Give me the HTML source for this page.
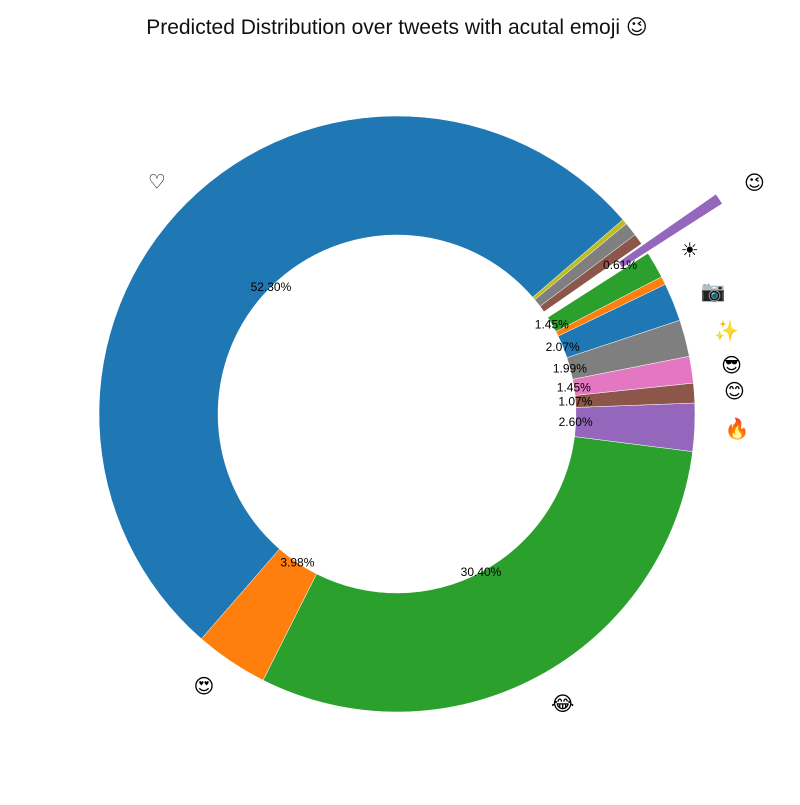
<!DOCTYPE html>
<html><head><meta charset="utf-8"><style>
body{margin:0;background:#fff;}
svg text{font-family:"Liberation Sans","DejaVu Sans",sans-serif;}
</style></head><body>
<svg id="chart" width="800" height="800" viewBox="0 0 800 800" xmlns="http://www.w3.org/2000/svg">
<text x="397" y="34" font-size="21" text-anchor="middle" fill="#111">Predicted Distribution over tweets with acutal emoji 😉</text>
<g id="wedges"></g><g id="labels"></g>
</svg>
<script>
const categories = ["♡","😍","😂","🔥","😊","😎","✨","📷","","☀","😉","","",""];
const values = [52.30,3.98,30.40,2.60,1.07,1.45,1.99,2.07,0.45,1.45,0.61,0.60,0.75,0.28];
const pctLabels = ["52.30%","3.98%","30.40%","2.60%","1.07%","1.45%","1.99%","2.07%","","1.45%","0.61%","","",""];
const explode = [0,0,0,0,0,0,0,0,0,0,0.3,0,0,0];
const colors = ["#1f77b4","#ff7f0e","#2ca02c","#9467bd","#8c564b","#e377c2","#7f7f7f","#1f77b4","#ff7f0e","#2ca02c","#9467bd","#8c564b","#7f7f7f","#bcbd22"];
const cx=397, cy=414, R=298, r0=179, startAngle=40.7;
const NS="http://www.w3.org/2000/svg";
const total=values.reduce((a,b)=>a+b,0);
function pt(x,y,a,rad){const t=a*Math.PI/180;return [x+rad*Math.cos(t), y-rad*Math.sin(t)];}
let a=startAngle;
const gw=document.getElementById('wedges'), gl=document.getElementById('labels');
values.forEach((v,i)=>{
  const span=v/total*360, a1=a, a2=a+span, mid=(a1+a2)/2;
  const [ox,oy]=pt(0,0,mid,explode[i]*R);
  const x=cx+ox,y=cy+oy;
  const p1=pt(x,y,a1,R),p2=pt(x,y,a2,R),p3=pt(x,y,a2,r0),p4=pt(x,y,a1,r0);
  const lg=span>180?1:0;
  const path=document.createElementNS(NS,'path');
  path.setAttribute('d',`M${p1[0]},${p1[1]} A${R},${R} 0 ${lg} 0 ${p2[0]},${p2[1]} L${p3[0]},${p3[1]} A${r0},${r0} 0 ${lg} 1 ${p4[0]},${p4[1]} Z`);
  path.setAttribute('fill',colors[i]);
  path.setAttribute('stroke','#fff');path.setAttribute('stroke-width','0.5');
  
  
  gw.appendChild(path);
  if(categories[i]){
    const lp=pt(x,y,mid,R*1.1);
    const t=document.createElementNS(NS,'text');
    t.setAttribute('x',lp[0]);t.setAttribute('y',lp[1]+7);
    t.setAttribute('font-size','20');
    t.setAttribute('text-anchor',Math.cos(mid*Math.PI/180)>=0?'start':'end');
    t.textContent=categories[i];
    
    
    gl.appendChild(t);
  }
  if(pctLabels[i]){
    const pp=pt(x,y,mid,R*0.6);
    const t=document.createElementNS(NS,'text');
    t.setAttribute('x',pp[0]);t.setAttribute('y',pp[1]+4);
    t.setAttribute('font-size','12');t.setAttribute('text-anchor','middle');
    t.textContent=pctLabels[i];
    
    
    gl.appendChild(t);
  }
  a=a2;
});
</script>
</body></html>
